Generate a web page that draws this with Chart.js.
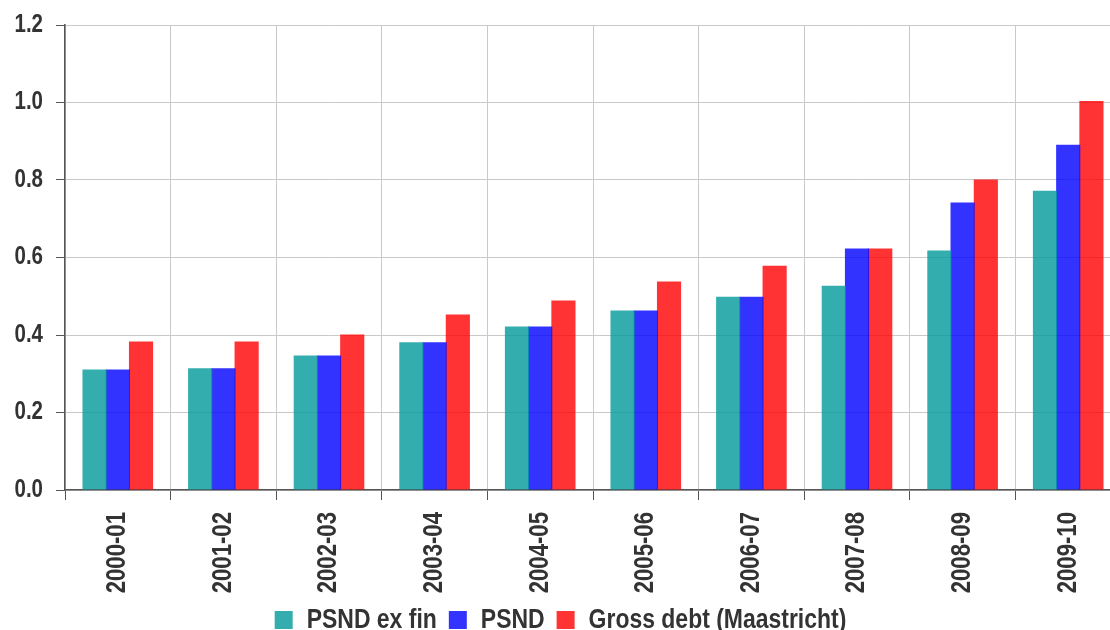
<!DOCTYPE html>
<html>
<head>
<meta charset="utf-8">
<script src="https://cdn.jsdelivr.net/npm/chart.js@4.4.0/dist/chart.umd.min.js"></script>
<style>
  html, body { margin: 0; padding: 0; background: #ffffff; overflow: hidden; }
  #wrap { width: 1110px; height: 630px; overflow: hidden; position: relative; }
  #box { width: 1122px; height: 630px; position: absolute; left: 0; top: 0; }
</style>
</head>
<body>
<div id="wrap"><div id="box"><canvas id="c"></canvas></div></div>
<script>
// Fiscal years on the category axis
const years = ['2000-01', '2001-02', '2002-03', '2003-04', '2004-05',
               '2005-06', '2006-07', '2007-08', '2008-09', '2009-10'];

// Debt series
const psndExFin = [0.311, 0.314, 0.347, 0.381, 0.422, 0.463, 0.499, 0.527, 0.618, 0.772];
const psnd      = [0.311, 0.314, 0.347, 0.381, 0.422, 0.463, 0.499, 0.623, 0.742, 0.891];
const grossDebt = [0.383, 0.383, 0.401, 0.453, 0.489, 0.538, 0.579, 0.623, 0.801, 1.004];

const seriesNames = ['PSND ex fin', 'PSND', 'Gross debt (Maastricht)'];

// Value axis ticks
const yTicks = [0.0, 0.2, 0.4, 0.6, 0.8, 1.0, 1.2];

const FONT = "'Liberation Sans', Arial, sans-serif";
const TEXT = '#333333';
const AXIS = '#555555';
const GRID = '#c9c9c9';

// Narrow lettering: text is drawn horizontally condensed along its baseline,
// and measured with the same factor so layout stays consistent.
const NARROW = 0.82;
const canvas = document.getElementById('c');
const ctx = canvas.getContext('2d');
const baseFill = ctx.fillText;
const baseMeasure = ctx.measureText;
ctx.fillText = function (text, x, y) {
  this.save();
  this.translate(x, y);
  this.scale(NARROW, 1);
  baseFill.call(this, text, 0, 0);
  this.restore();
};
ctx.measureText = function (text) {
  const m = baseMeasure.call(this, text);
  return {
    width: m.width * NARROW,
    actualBoundingBoxLeft: m.actualBoundingBoxLeft * NARROW,
    actualBoundingBoxRight: m.actualBoundingBoxRight * NARROW,
    actualBoundingBoxAscent: m.actualBoundingBoxAscent,
    actualBoundingBoxDescent: m.actualBoundingBoxDescent,
    fontBoundingBoxAscent: m.fontBoundingBoxAscent,
    fontBoundingBoxDescent: m.fontBoundingBoxDescent
  };
};

new Chart(canvas, {
  type: 'bar',
  data: {
    labels: years,
    datasets: [
      { label: seriesNames[0], data: psndExFin, backgroundColor: 'rgba(0,153,153,0.8)' },
      { label: seriesNames[1], data: psnd,      backgroundColor: 'rgba(0,0,255,0.8)' },
      { label: seriesNames[2], data: grossDebt, backgroundColor: 'rgba(255,0,0,0.8)' }
    ]
  },
  options: {
    responsive: true,
    maintainAspectRatio: false,
    animation: false,
    devicePixelRatio: 1,
    datasets: {
      bar: { categoryPercentage: 0.66, barPercentage: 1.04, borderWidth: 0 }
    },
    layout: { padding: { top: 25, right: 1, left: 0, bottom: -14 } },
    plugins: {
      tooltip: { enabled: false },
      legend: {
        position: 'bottom',
        labels: {
          color: TEXT,
          font: { family: FONT, size: 28, weight: 'bold' },
          boxWidth: 18,
          boxHeight: 18,
          padding: 12
        }
      }
    },
    scales: {
      x: {
        offset: true,
        grid: { display: true, offset: true, color: GRID, tickColor: AXIS, tickLength: 10, drawOnChartArea: true },
        border: { display: true, color: AXIS, width: 1.5 },
        ticks: {
          color: TEXT,
          font: { family: FONT, size: 27, weight: 'bold' },
          minRotation: 90,
          maxRotation: 90,
          padding: 12,
          autoSkip: false
        },
        afterFit: (s) => { s.height = 104; s.paddingLeft = 0; s.paddingRight = 0; }
      },
      y: {
        min: 0,
        max: 1.2,
        afterBuildTicks: (s) => { s.ticks = yTicks.map(v => ({ value: v })); },
        grid: { color: GRID, tickColor: AXIS, tickLength: 9 },
        border: { display: true, color: AXIS, width: 1.5 },
        ticks: {
          color: TEXT,
          font: { family: FONT, size: 25, weight: 'bold' },
          padding: 13,
          callback: (v) => Number(v).toFixed(1)
        },
        afterFit: (s) => { s.width = 65; s.paddingTop = 0; s.paddingBottom = 0; }
      }
    }
  }
});
</script>
</body>
</html>
